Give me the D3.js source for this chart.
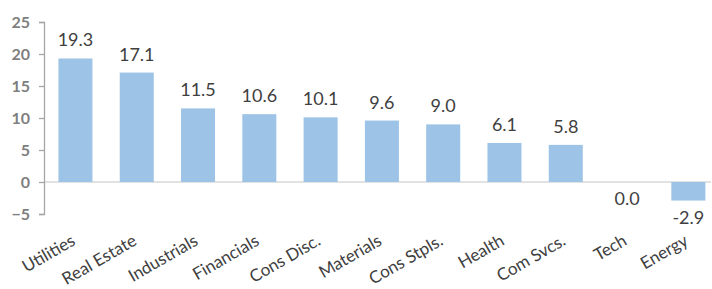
<!DOCTYPE html>
<html><head><meta charset="utf-8">
<script src="https://cdn.jsdelivr.net/npm/d3@7"></script>
<style>body{margin:0;background:#fff}svg{display:block}</style>
</head><body>
<script>
const categories = ["Utilities","Real Estate","Industrials","Financials","Cons Disc.","Materials","Cons Stpls.","Health","Com Svcs.","Tech","Energy"];
const values = [19.3,17.1,11.5,10.6,10.1,9.6,9.0,6.1,5.8,0.0,-2.9];
const yTicks = [-5,0,5,10,15,20,25];

const W=712,H=289;
const svg=d3.select("body").append("svg").attr("width",W).attr("height",H);
const font="'Century Gothic','Lato','Open Sans',sans-serif";

const y=d3.scaleLinear().domain([-5,25]).range([214,22]);
const x=d3.scaleBand().domain(categories).range([44.8,719]).paddingInner(0.445).paddingOuter(0.2225);

// zero line
svg.append("line").attr("x1",44).attr("x2",711).attr("y1",y(0)).attr("y2",y(0))
  .attr("stroke","#d9d9d9").attr("stroke-width",1.5);

// bars
svg.selectAll("rect.bar").data(values).join("rect").attr("class","bar")
  .attr("x",(d,i)=>x(categories[i])).attr("width",x.bandwidth())
  .attr("y",d=>y(Math.max(0,d))).attr("height",d=>Math.abs(y(d)-y(0)))
  .attr("fill","#9dc3e6");

// y axis
const ax=svg.append("g").attr("transform","translate(44,0)")
  .call(d3.axisLeft(y).tickValues(yTicks).tickSize(5).tickPadding(9).tickFormat(d3.format("d")));
ax.select(".domain").attr("stroke","#a6a6a6").attr("stroke-width",1.3);
ax.selectAll(".tick line").attr("stroke","#a6a6a6").attr("stroke-width",1.3);
ax.selectAll(".tick text").attr("fill","#7f7f7f").attr("font-family",font)
  .attr("font-size",16).attr("font-weight","bold");

// value labels
svg.selectAll("text.val").data(values).join("text").attr("class","val")
  .attr("x",(d,i)=>x(categories[i])+x.bandwidth()/2)
  .attr("y",d=>d>0?y(d)-12:y(Math.min(d,0))+23)
  .attr("text-anchor","middle").attr("font-family",font).attr("font-size",18)
  .attr("fill","#404040").text(d=>d.toFixed(1));

// category labels
svg.selectAll("text.cat").data(categories).join("text").attr("class","cat")
  .attr("transform",d=>`translate(${x(d)+x.bandwidth()/2+1},244) rotate(-30)`)
  .attr("text-anchor","end").attr("font-family",font).attr("font-size",17)
  .attr("fill","#404040").text(d=>d);
</script>
</body></html>
